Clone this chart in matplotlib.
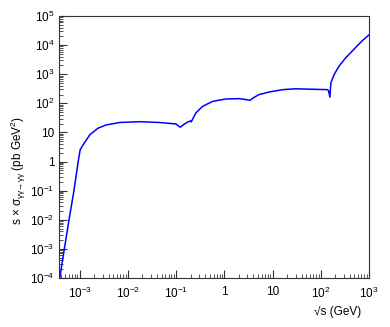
import math

import matplotlib
matplotlib.use("Agg")
import matplotlib.pyplot as plt
from matplotlib.ticker import LogLocator, FuncFormatter, NullFormatter

plt.rcParams["font.family"] = ["Liberation Sans", "DejaVu Sans"]
plt.rcParams["mathtext.fontset"] = "custom"
plt.rcParams["mathtext.rm"] = "Liberation Sans"
plt.rcParams["mathtext.it"] = "Liberation Sans"
plt.rcParams["mathtext.fallback"] = "stix"

# sqrt(s) in GeV
sqrt_s = [3.86e-4, 4.8e-4, 6.0e-4, 7.6e-4, 9.3e-4, 1.02e-3, 1.17e-3, 1.62e-3,
          2.4e-3, 3.5e-3, 6.8e-3, 1.74e-2, 4.5e-2, 0.1, 0.121, 0.162, 0.20,
          0.206, 0.257, 0.355, 0.575, 1.07, 2.04, 2.82, 3.39, 4.0, 5.25, 8.5,
          16.2, 30.0, 138.0, 145.0, 155.0, 162.0, 190.0, 240.0, 331.0, 490.0,
          724.0, 1000.0]
# s x sigma in pb GeV^2
s_sigma = [1e-4, 1e-3, 1e-2, 0.1, 1.0, 2.5, 3.7, 8.3,
           14.0, 18.0, 22.0, 23.4, 22.0, 19.5, 15.1, 21.4, 25.0,
           23.0, 47.0, 79.0, 117.0, 141.0, 145.0, 135.0, 126.0, 155.0, 200.0,
           245.0, 295.0, 316.0, 295.0, 275.0, 162.0, 500.0, 980.0, 1900.0,
           3700.0, 7240.0, 1.41e4, 2.24e4]


def root_fmt(v, pos):
    if v <= 0:
        return ""
    e = int(round(math.log10(v)))
    if e == 0:
        return "1"
    if e == 1:
        return "10"
    return "10$^{\\mathregular{%d}}$" % e


fig = plt.figure(figsize=(3.9, 3.27), dpi=100)
ax = fig.add_axes([0.151, 0.150, 0.795, 0.801])

ax.plot(sqrt_s, s_sigma, color="#0000ff", lw=1.1)

ax.set_xscale("log")
ax.set_yscale("log")
ax.set_xlim(3.7e-4, 1000)
ax.set_ylim(1e-4, 1e5)

for axis in (ax.xaxis, ax.yaxis):
    axis.set_major_locator(LogLocator(base=10, numticks=20))
    axis.set_minor_locator(LogLocator(base=10, subs=range(2, 10), numticks=20))
    axis.set_major_formatter(FuncFormatter(root_fmt))
    axis.set_minor_formatter(NullFormatter())

ax.tick_params(which="both", direction="in", top=False, right=False,
               labelsize=8.5, color="#333333")
ax.tick_params(which="major", length=5.8, width=0.8)
ax.tick_params(which="minor", length=3.0, width=0.6)
ax.tick_params(axis="x", which="major", pad=6)
ax.tick_params(axis="y", which="major", pad=3)

for sp in ax.spines.values():
    sp.set_linewidth(0.8)
    sp.set_color("#333333")

ax.set_ylabel("s $\\times$ σ$_{\\mathregular{γγ→γγ}}$ (pb GeV$^{\\mathregular{2}}$)",
              fontsize=8.5)
ax.yaxis.set_label_coords(-0.10, 0.41)
ax.set_xlabel("√s (GeV)", fontsize=8.5, ha="right")
ax.xaxis.set_label_coords(0.975, -0.105)

fig.savefig("out.png", dpi=100)
